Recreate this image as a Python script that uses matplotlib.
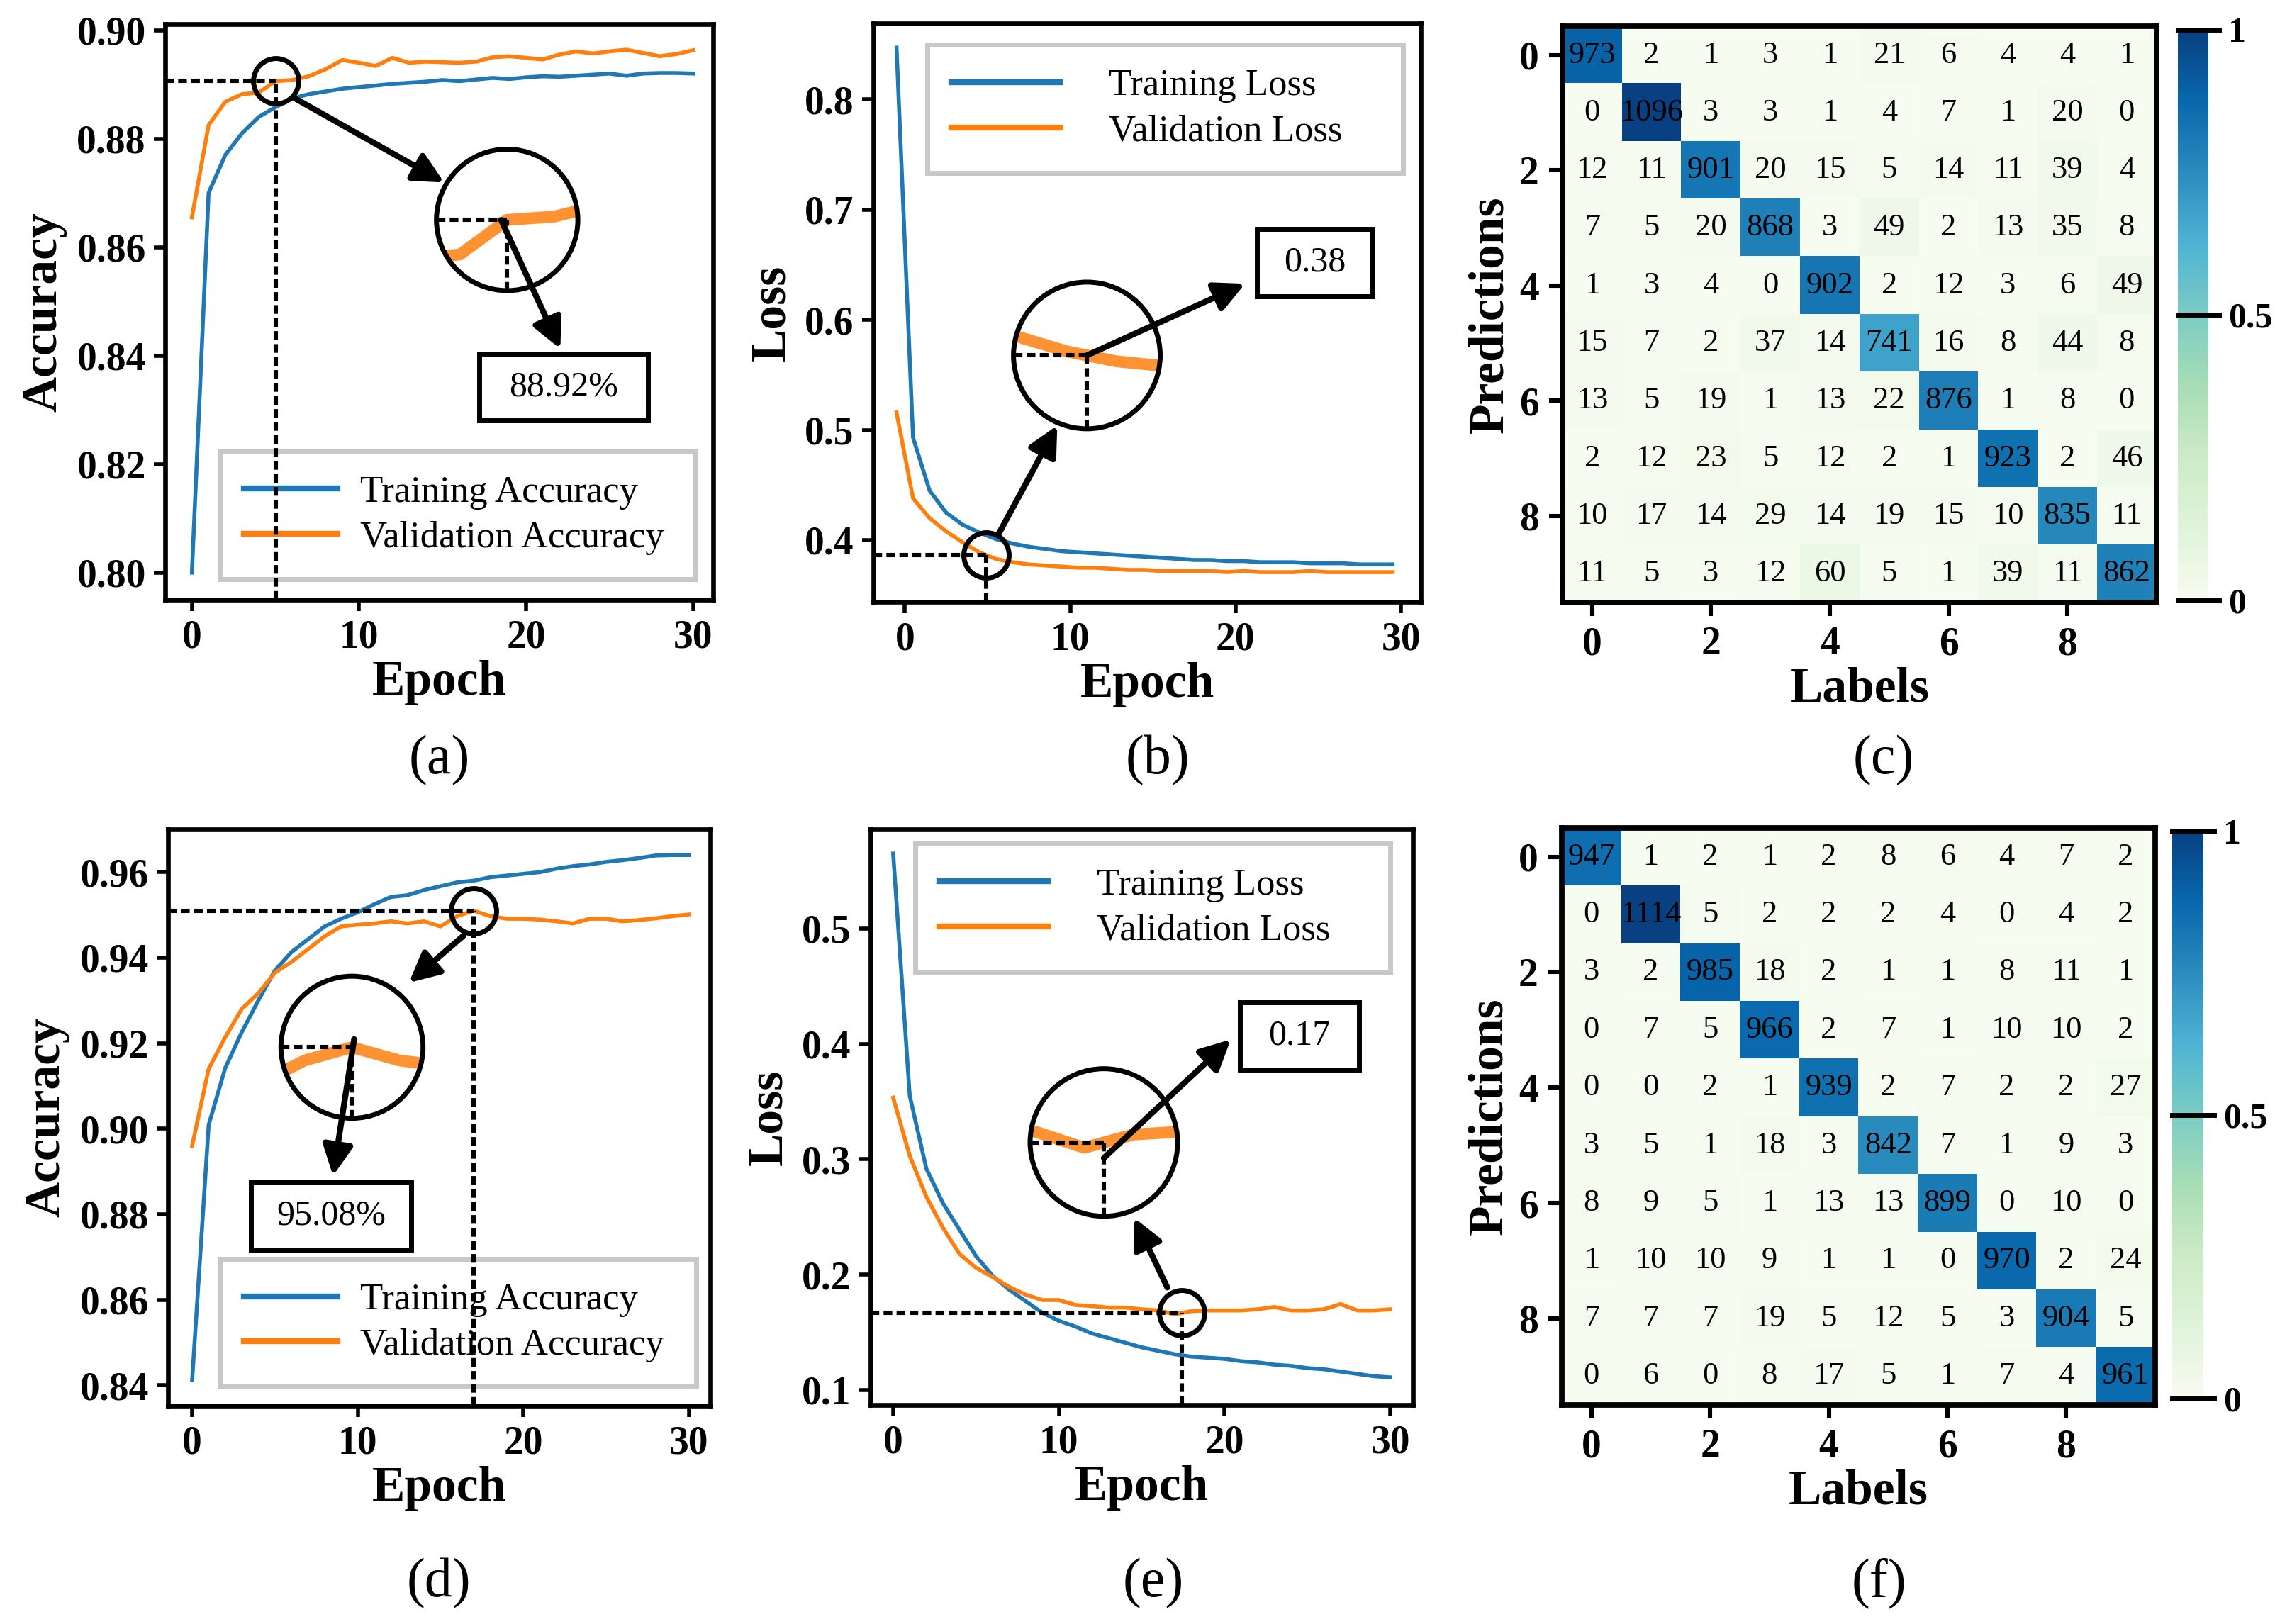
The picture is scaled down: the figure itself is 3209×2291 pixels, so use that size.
import matplotlib
matplotlib.use("Agg")
import matplotlib.pyplot as plt
import numpy as np
from matplotlib.patches import Circle, Rectangle

plt.rcParams['font.family'] = ['Liberation Serif', 'DejaVu Serif']

BLUE = '#1f77b4'
ORANGE = '#ff7f0e'

# ---------------- данные ----------------
epochs = np.arange(31)
epochs_b = np.arange(31) - 0.5  # в (b) кривые сдвинуты на полэпохи

acc_train_a = [0.8000, 0.8700, 0.8770, 0.8810, 0.8840, 0.8858, 0.8874, 0.8882, 0.8887, 0.8892,
               0.8895, 0.8898, 0.8901, 0.8903, 0.8905, 0.8908, 0.8906, 0.8909, 0.8912, 0.8910,
               0.8913, 0.8915, 0.8914, 0.8916, 0.8918, 0.8920, 0.8916, 0.8920, 0.8921, 0.8921, 0.8920]
acc_val_a = [0.8655, 0.8825, 0.8868, 0.8882, 0.8885, 0.8906, 0.8908, 0.8915, 0.8928, 0.8945,
             0.8940, 0.8934, 0.8949, 0.8940, 0.8942, 0.8941, 0.8940, 0.8942, 0.8950, 0.8952,
             0.8949, 0.8946, 0.8955, 0.8961, 0.8957, 0.8961, 0.8964, 0.8958, 0.8952, 0.8956, 0.8963]

loss_train_b = [0.847, 0.493, 0.445, 0.425, 0.414, 0.407, 0.401, 0.397, 0.394, 0.392,
                0.390, 0.389, 0.388, 0.387, 0.386, 0.385, 0.384, 0.383, 0.382, 0.382,
                0.381, 0.381, 0.380, 0.380, 0.380, 0.379, 0.379, 0.379, 0.378, 0.378, 0.378]
loss_val_b = [0.516, 0.438, 0.420, 0.408, 0.398, 0.389, 0.383, 0.380, 0.378, 0.377,
              0.376, 0.375, 0.375, 0.374, 0.373, 0.373, 0.372, 0.372, 0.372, 0.372,
              0.371, 0.372, 0.371, 0.371, 0.371, 0.372, 0.371, 0.371, 0.371, 0.371, 0.371]

acc_train_d = [0.8412, 0.9009, 0.9142, 0.9226, 0.9300, 0.9370, 0.9413, 0.9443, 0.9473, 0.9491,
               0.9506, 0.9525, 0.9542, 0.9546, 0.9558, 0.9567, 0.9576, 0.9580, 0.9588, 0.9592,
               0.9596, 0.9600, 0.9608, 0.9614, 0.9618, 0.9624, 0.9628, 0.9633, 0.9639, 0.9640, 0.9640]
acc_val_d = [0.8960, 0.9140, 0.9214, 0.9280, 0.9317, 0.9365, 0.9390, 0.9420, 0.9450, 0.9473,
             0.9477, 0.9480, 0.9485, 0.9480, 0.9485, 0.9473, 0.9497, 0.9510, 0.9497, 0.9491,
             0.9491, 0.9489, 0.9485, 0.9480, 0.9491, 0.9491, 0.9485, 0.9488, 0.9492, 0.9497, 0.9501]

loss_train_e = [0.565, 0.355, 0.292, 0.262, 0.239, 0.216, 0.199, 0.187, 0.177, 0.167,
                0.160, 0.155, 0.149, 0.145, 0.141, 0.137, 0.134, 0.131, 0.129, 0.128,
                0.127, 0.125, 0.124, 0.122, 0.121, 0.119, 0.118, 0.116, 0.114, 0.112, 0.111]
loss_val_e = [0.3534, 0.3030, 0.2676, 0.2408, 0.2180, 0.2060, 0.1980, 0.1894, 0.1827, 0.1780,
              0.1780, 0.1737, 0.1728, 0.1715, 0.1715, 0.1700, 0.1690, 0.1657, 0.1684, 0.1690,
              0.1690, 0.1690, 0.1700, 0.1720, 0.1690, 0.1690, 0.1700, 0.1745, 0.1690, 0.1690, 0.1700]

cm_c = np.array([
    [973, 2, 1, 3, 1, 21, 6, 4, 4, 1],
    [0, 1096, 3, 3, 1, 4, 7, 1, 20, 0],
    [12, 11, 901, 20, 15, 5, 14, 11, 39, 4],
    [7, 5, 20, 868, 3, 49, 2, 13, 35, 8],
    [1, 3, 4, 0, 902, 2, 12, 3, 6, 49],
    [15, 7, 2, 37, 14, 741, 16, 8, 44, 8],
    [13, 5, 19, 1, 13, 22, 876, 1, 8, 0],
    [2, 12, 23, 5, 12, 2, 1, 923, 2, 46],
    [10, 17, 14, 29, 14, 19, 15, 10, 835, 11],
    [11, 5, 3, 12, 60, 5, 1, 39, 11, 862]])

cm_f = np.array([
    [947, 1, 2, 1, 2, 8, 6, 4, 7, 2],
    [0, 1114, 5, 2, 2, 2, 4, 0, 4, 2],
    [3, 2, 985, 18, 2, 1, 1, 8, 11, 1],
    [0, 7, 5, 966, 2, 7, 1, 10, 10, 2],
    [0, 0, 2, 1, 939, 2, 7, 2, 2, 27],
    [3, 5, 1, 18, 3, 842, 7, 1, 9, 3],
    [8, 9, 5, 1, 13, 13, 899, 0, 10, 0],
    [1, 10, 10, 9, 1, 1, 0, 970, 2, 24],
    [7, 7, 7, 19, 5, 12, 5, 3, 904, 5],
    [0, 6, 0, 8, 17, 5, 1, 7, 4, 961]])

acc_names = ['Training Accuracy', 'Validation Accuracy']
loss_names = ['Training Loss', 'Validation Loss']
xticks = [0, 10, 20, 30]
yticks_a = [0.80, 0.82, 0.84, 0.86, 0.88, 0.90]
yticks_b = [0.4, 0.5, 0.6, 0.7, 0.8]
yticks_d = [0.84, 0.86, 0.88, 0.90, 0.92, 0.94, 0.96]
yticks_e = [0.1, 0.2, 0.3, 0.4, 0.5]
cm_ticks = [0, 2, 4, 6, 8]
cbar_ticks = [0, 0.5, 1]
cbar_labels = ['0', '0.5', '1']


def bold_ticks(ax, size=20):
    ax.tick_params(labelsize=size)
    for lab in ax.get_xticklabels() + ax.get_yticklabels():
        lab.set_fontweight('bold')


def curve_panel(fig, rect, x, train, val, names, ylabel, yticks, yfmt, xlim, ylim,
                leg_loc, leg_box, hlen, hpad):
    ax = fig.add_axes(rect)
    ax.plot(x, train, color=BLUE, lw=2, label=names[0])
    ax.plot(x, val, color=ORANGE, lw=2, label=names[1])
    ax.set_xlim(xlim)
    ax.set_ylim(ylim)
    ax.set_xticks(xticks)
    ax.set_yticks(yticks, labels=[yfmt % t for t in yticks])
    for s in ax.spines.values():
        s.set_linewidth(2.4)
    ax.tick_params(direction='out', length=5.8, width=2, pad=4)
    bold_ticks(ax)
    ax.set_xlabel('Epoch', fontsize=25, fontweight='bold', labelpad=2)
    ax.set_ylabel(ylabel, fontsize=25, fontweight='bold', labelpad=5)
    leg = ax.legend(loc=leg_loc, bbox_to_anchor=leg_box, mode='expand', fontsize=19,
                    handlelength=hlen, handletextpad=hpad, borderpad=0.65, labelspacing=0.3,
                    fancybox=False, framealpha=1, edgecolor='#c8c8c8', borderaxespad=0)
    leg.get_frame().set_linewidth(2.5)
    for ln in leg.get_lines():
        ln.set_linewidth(3)
    return ax


def magnifier(ax, x, y, px, py, center, r, w, h):
    fig = ax.figure
    bb = ax.get_position()
    fw, fh = fig.get_size_inches()
    ratio = (bb.width * fw) / (bb.height * fh)
    cx, cy = center
    ins = ax.inset_axes([cx - r, cy - r * ratio, 2 * r, 2 * r * ratio])
    ins.set_xlim(px - w, px + w)
    ins.set_ylim(py - h, py + h)
    ins.axis('off')
    disk = Circle((0.5, 0.5), 0.5, transform=ins.transAxes, fc='white', ec='none', zorder=0)
    ins.add_patch(disk)
    ln, = ins.plot(x, y, color=ORANGE, lw=6, alpha=0.85)
    ln.set_clip_path(disk)
    hl, = ins.plot([px - w, px], [py, py], color='k', lw=2.2, ls=(0, (2, 1)), zorder=3)
    vl, = ins.plot([px, px], [py - h, py], color='k', lw=2.2, ls=(0, (2, 1)), zorder=3)
    hl.set_clip_path(disk)
    vl.set_clip_path(disk)
    ins.add_patch(Circle((0.5, 0.5), 0.5, transform=ins.transAxes, fill=False,
                         ec='k', lw=2.5, clip_on=False, zorder=4))
    return ins


def mark_point(ax, x, val, px, text, center, r, w, h, arrow1, arrow2, box):
    py = np.interp(px, x, val)
    x0 = ax.get_xlim()[0]
    y0 = ax.get_ylim()[0]
    ax.plot([x0, px], [py, py], color='k', lw=2.2, ls=(0, (2, 1)), zorder=6)
    ax.plot([px, px], [y0, py], color='k', lw=2.2, ls=(0, (2, 1)), zorder=6)
    ax.plot([px], [py], 'o', ms=23, mfc='none', mec='k', mew=2.5, zorder=7)
    magnifier(ax, x, val, px, py, center, r, w, h)
    for s, e in (arrow1, arrow2):
        ax.annotate('', xy=e, xytext=s, xycoords='axes fraction', textcoords='axes fraction',
                    arrowprops=dict(arrowstyle='-|>', color='k', lw=3, mutation_scale=32,
                                    shrinkA=0, shrinkB=0), zorder=8)
    bx, by, bw, bh = box
    ax.add_patch(Rectangle((bx, by), bw, bh, transform=ax.transAxes, fc='white', ec='k',
                           lw=2.5, zorder=7))
    ax.text(bx + bw / 2, by + bh / 2, text, transform=ax.transAxes, ha='center', va='center',
            fontsize=18, zorder=8)


def conf_panel(fig, rect, cax_rect, cm):
    ax = fig.add_axes(rect)
    im = ax.imshow(cm / cm.max(), cmap='GnBu', vmin=0, vmax=1, aspect='auto')
    for i in range(cm.shape[0]):
        for j in range(cm.shape[1]):
            ax.text(j, i, str(cm[i, j]), ha='center', va='center', fontsize=16)
    ax.set_xticks(cm_ticks)
    ax.set_yticks(cm_ticks)
    for s in ax.spines.values():
        s.set_linewidth(2.8)
    ax.tick_params(direction='out', length=7, width=2.2, pad=5)
    bold_ticks(ax)
    ax.set_xlabel('Labels', fontsize=25, fontweight='bold', labelpad=2)
    ax.set_ylabel('Predictions', fontsize=25, fontweight='bold', labelpad=3)
    cax = fig.add_axes(cax_rect)
    cb = fig.colorbar(im, cax=cax, ticks=cbar_ticks)
    cb.outline.set_visible(False)
    cax.set_yticklabels(cbar_labels)
    cax.tick_params(length=0, pad=10, labelsize=18)
    for lab in cax.get_yticklabels():
        lab.set_fontweight('bold')
    for v in cbar_ticks:
        cax.axhline(v, xmin=0, xmax=1.34, color='k', lw=2.5, clip_on=False)
    return ax


fig = plt.figure(figsize=(16.045, 11.455), dpi=200)

# (a)
ax_a = curve_panel(fig, [0.0726, 0.6307, 0.2409, 0.3544], epochs, acc_train_a, acc_val_a,
                   acc_names, 'Accuracy', yticks_a, '%.2f', (-1.6, 31.2), (0.795, 0.9011),
                   'lower right', (0.0996, 0.036, 0.868, 0.22), 2.5, 0.6)
mark_point(ax_a, epochs, acc_val_a, 5, '88.92%', (0.624, 0.660), 0.129, 1.5, 0.0043,
           ((0.237, 0.871), (0.509, 0.725)), ((0.613, 0.660), (0.721, 0.436)),
           (0.5725, 0.3115, 0.3085, 0.1162))

# (b)
ax_b = curve_panel(fig, [0.3839, 0.6294, 0.2406, 0.3562], epochs_b, loss_train_b, loss_val_b,
                   loss_names, 'Loss', yticks_b, '%.1f', (-1.9, 31.2), (0.344, 0.869),
                   'upper right', (0.098, 0.744, 0.870, 0.219), 2.9, 1.3)
mark_point(ax_b, epochs_b, loss_val_b, 4.9, '0.38', (0.390, 0.426), 0.134, 1.5, 0.045,
           ((0.228, 0.116), (0.336, 0.305)), ((0.390, 0.426), (0.679, 0.550)),
           (0.7008, 0.528, 0.2107, 0.117))

# (d)
ax_d = curve_panel(fig, [0.0739, 0.1344, 0.2384, 0.3549], epochs, acc_train_d, acc_val_d,
                   acc_names, 'Accuracy', yticks_d, '%.2f', (-1.45, 31.3), (0.8352, 0.970),
                   'lower right', (0.095, 0.033, 0.878, 0.22), 2.5, 0.6)
mark_point(ax_d, epochs, acc_val_d, 17, '95.08%', (0.339, 0.622), 0.131, 1.5, 0.007,
           ((0.544, 0.815), (0.444, 0.734)), ((0.343, 0.636), (0.304, 0.399)),
           (0.1528, 0.270, 0.2952, 0.1177))

# (e)
ax_e = curve_panel(fig, [0.3827, 0.1349, 0.2384, 0.3544], epochs, loss_train_e, loss_val_e,
                   loss_names, 'Loss', yticks_e, '%.1f', (-1.36, 31.37), (0.0871, 0.586),
                   'upper right', (0.082, 0.756, 0.876, 0.219), 2.9, 1.3)
mark_point(ax_e, epochs, loss_val_e, 17.4, '0.17', (0.430, 0.456), 0.136, 1.5, 0.015,
           ((0.547, 0.204), (0.486, 0.325)), ((0.430, 0.429), (0.664, 0.635)),
           (0.6807, 0.583, 0.2203, 0.117))

# (c), (f)
conf_panel(fig, [0.6868, 0.629, 0.2611, 0.3549], [0.9573, 0.6303, 0.0134, 0.3514], cm_c)
conf_panel(fig, [0.6865, 0.1349, 0.2608, 0.3553], [0.9548, 0.1388, 0.0137, 0.3496], cm_f)

for lbl, x, y in [('(a)', 0.193, 0.532), ('(b)', 0.509, 0.532), ('(c)', 0.828, 0.532),
                  ('(d)', 0.193, 0.0253), ('(e)', 0.507, 0.0253), ('(f)', 0.826, 0.0253)]:
    fig.text(x, y, lbl, ha='center', va='center', fontsize=28)

fig.savefig('out.png', dpi=200)
